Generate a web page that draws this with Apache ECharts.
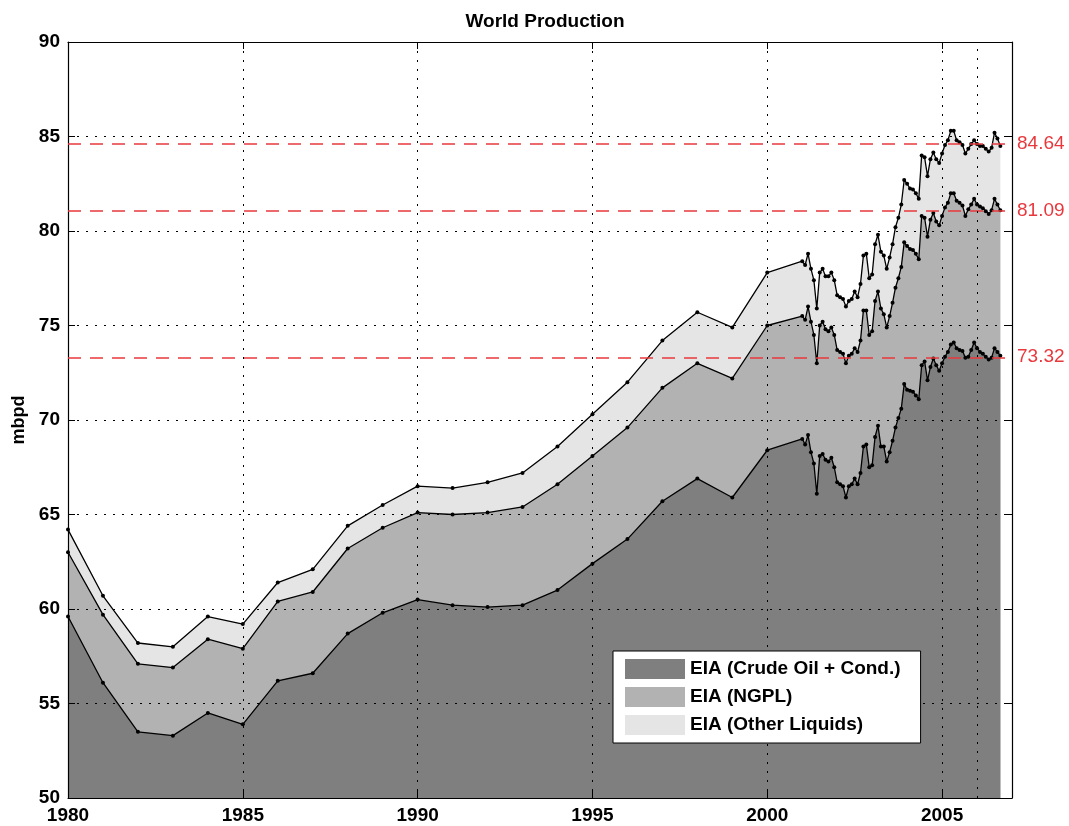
<!DOCTYPE html>
<html>
<head>
<meta charset="utf-8">
<title>World Production</title>
<script src="https://cdn.jsdelivr.net/npm/echarts@6/dist/echarts.min.js"></script>
<style>
  html, body { margin: 0; padding: 0; background: #ffffff; }
  #chart { width: 1069px; height: 826px; }
</style>
</head>
<body>
<div id="chart"></div>
<script>
// ---- Annual averages, 1980-2000 (million barrels per day) ----
const annualYears = [1980, 1981, 1982, 1983, 1984, 1985, 1986, 1987, 1988, 1989, 1990,
                     1991, 1992, 1993, 1994, 1995, 1996, 1997, 1998, 1999, 2000];
const crudeAnnual = [59.6, 56.1, 53.5, 53.3, 54.5, 53.9, 56.2, 56.6, 58.7, 59.8, 60.5,
                     60.2, 60.1, 60.2, 61.0, 62.4, 63.7, 65.7, 66.9, 65.9, 68.4];
const ngplAnnual  = [3.4, 3.6, 3.6, 3.6, 3.9, 4.0, 4.2, 4.3, 4.5, 4.5, 4.6,
                     4.8, 5.0, 5.2, 5.6, 5.7, 5.9, 6.0, 6.1, 6.3, 6.6];
const otherAnnual = [1.2, 1.0, 1.1, 1.1, 1.2, 1.3, 1.0, 1.2, 1.2, 1.2, 1.4,
                     1.4, 1.6, 1.8, 2.0, 2.2, 2.4, 2.5, 2.7, 2.7, 2.8];

// ---- Monthly values, Jan 2001 - Sep 2006 ----
const monthlyStartYear = 2001;
const crudeMonthly = [
  69.0, 68.7, 69.2, 68.3, 67.7, 66.1, 68.1, 68.2, 67.9, 67.8, 68.0, 67.5,   // 2001
  66.7, 66.6, 66.5, 65.9, 66.5, 66.6, 66.9, 66.6, 67.2, 68.6, 68.7, 67.5,   // 2002
  67.6, 69.1, 69.7, 68.6, 68.6, 67.8, 68.3, 68.9, 69.6, 70.1, 70.6, 71.9,   // 2003
  71.6, 71.55, 71.5, 71.3, 71.1, 72.9, 73.1, 72.1, 72.8, 73.25, 72.9, 72.6, // 2004
  73.0, 73.35, 73.6, 74.0, 74.1, 73.8, 73.7, 73.65, 73.3, 73.35, 73.7, 74.1, // 2005
  73.8, 73.6, 73.5, 73.35, 73.2, 73.3, 73.8, 73.6, 73.4                      // 2006
];
const ngplMonthly = [
  6.5, 6.6, 6.8, 6.9, 6.8, 6.9, 6.9, 7.0, 6.9, 6.9, 6.9, 7.0,
  7.0, 7.0, 7.0, 7.1, 6.9, 6.9, 6.9, 7.0, 7.0, 7.2, 7.1, 7.0,
  7.1, 7.2, 7.1, 7.3, 7.0, 7.1, 7.2, 7.3, 7.4, 7.4, 7.5, 7.5,
  7.6, 7.5, 7.5, 7.5, 7.4, 7.9, 7.6, 7.6, 7.8, 7.7, 7.6, 7.7,
  7.8, 7.9, 7.9, 8.0, 7.9, 7.8, 7.8, 7.7, 7.5, 7.8, 7.7, 7.6,
  7.6, 7.7, 7.7, 7.7, 7.7, 7.8, 7.9, 7.8, 7.7
];
const otherMonthly = [
  2.9, 2.9, 2.8, 2.8, 2.9, 2.9, 2.8, 2.8, 2.8, 2.9, 2.9, 2.9,
  2.9, 2.9, 2.9, 3.0, 2.9, 2.9, 3.0, 2.9, 3.0, 2.9, 3.0, 3.0,
  3.0, 3.0, 3.0, 3.0, 3.1, 3.1, 3.1, 3.1, 3.2, 3.2, 3.3, 3.3,
  3.3, 3.2, 3.2, 3.2, 3.2, 3.2, 3.2, 3.2, 3.2, 3.2, 3.3, 3.3,
  3.3, 3.3, 3.3, 3.3, 3.3, 3.2, 3.2, 3.2, 3.3, 3.2, 3.2, 3.1,
  3.2, 3.2, 3.3, 3.3, 3.3, 3.3, 3.5, 3.5, 3.4
];

// Reference levels drawn as red dashed lines
const referenceLevels = [84.64, 81.09, 73.32];

const seriesNames = ['EIA (Crude Oil + Cond.)', 'EIA (NGPL)', 'EIA (Other Liquids)'];
const fillColors = ['#7f7f7f', '#b2b2b2', '#e5e5e5'];

// Join the annual and monthly parts into one time axis
const timeAxis = annualYears.concat(crudeMonthly.map((_, i) => monthlyStartYear + i / 12));
const layers = [
  crudeAnnual.concat(crudeMonthly),
  ngplAnnual.concat(ngplMonthly),
  otherAnnual.concat(otherMonthly)
];

// Cumulative tops of each band: crude, crude + NGPL, crude + NGPL + other
const cumulative = [];
layers.forEach((layer, k) => {
  cumulative.push(layer.map((v, i) => (k === 0 ? 0 : cumulative[k - 1][i]) + v));
});

const FONT = '"Liberation Sans", Arial, Helvetica, sans-serif';
const RED = '#e8383d';
const gridDots = { color: '#000', width: 1, type: [2, 7] };

// Each band is filled down to the axis; the lower bands are drawn over the upper ones
const series = cumulative.map((vals, k) => {
  const s = {
    name: seriesNames[k],
    type: 'line',
    data: vals.map((v, i) => [timeAxis[i], Math.round(v * 100) / 100]),
    z: 4 - k,
    symbol: 'circle',
    symbolSize: 4,
    showSymbol: true,
    itemStyle: { color: '#000' },
    lineStyle: { color: '#000', width: 1.3 },
    areaStyle: { color: fillColors[k], opacity: 1 },
    emphasis: { disabled: true },
    animation: false
  };
  if (k === 0) {
    s.markLine = {
      silent: true,
      symbol: 'none',
      animation: false,
      z: 6,
      data: referenceLevels.map(v => ({
        yAxis: v,
        lineStyle: { color: RED, width: 1.5, type: [13, 9] },
        label: {
          show: true, position: 'end', distance: 5, formatter: String(v),
          color: RED, fontSize: 19, fontFamily: FONT
        }
      })).concat([{
        xAxis: 2006,
        lineStyle: gridDots,
        label: { show: false }
      }])
    };
  }
  return s;
});

const chart = echarts.init(document.getElementById('chart'), null, { renderer: 'canvas' });
chart.setOption({
  animation: false,
  backgroundColor: '#ffffff',
  title: {
    text: 'World Production',
    left: 540, top: 7, textAlign: 'center',
    textStyle: { fontFamily: FONT, fontWeight: 'bold', fontSize: 19, color: '#000' }
  },
  grid: { left: 68, right: 57, top: 42, bottom: 28, containLabel: false },
  legend: {
    orient: 'vertical',
    left: 613, top: 651,
    data: seriesNames.map((n, k) => ({
      name: n, icon: 'rect',
      itemStyle: { color: fillColors[k], borderWidth: 0 }
    })),
    itemWidth: 60, itemHeight: 20, itemGap: 8,
    padding: [8, 20, 8, 12],
    backgroundColor: '#ffffff',
    borderColor: '#000', borderWidth: 1,
    selectedMode: false,
    z: 8,
    textStyle: { fontFamily: FONT, fontWeight: 'bold', fontSize: 19, color: '#000' }
  },
  xAxis: [{
    type: 'value', min: 1980, max: 2007, interval: 5, z: 5,
    position: 'bottom',
    axisLine: { show: true, onZero: false, lineStyle: { color: '#000', width: 1.2 } },
    axisTick: { show: true, inside: true, length: 7, lineStyle: { color: '#000' } },
    axisLabel: {
      margin: 8, color: '#000', fontFamily: FONT, fontWeight: 'bold', fontSize: 19,
      formatter: v => (v % 5 === 0 ? String(v) : '')
    },
    splitLine: { show: true, lineStyle: gridDots }
  }, {
    type: 'value', min: 1980, max: 2007, interval: 5, z: 5,
    position: 'top',
    axisLine: { show: true, onZero: false, lineStyle: { color: '#000', width: 1.2 } },
    axisTick: { show: true, inside: true, length: 7, lineStyle: { color: '#000' } },
    axisLabel: { show: false },
    splitLine: { show: false }
  }],
  yAxis: [{
    type: 'value', min: 50, max: 90, interval: 5, z: 5,
    position: 'left',
    name: 'mbpd', nameLocation: 'middle', nameGap: 34, nameRotate: 90,
    nameTextStyle: { fontFamily: FONT, fontWeight: 'bold', fontSize: 18, color: '#000' },
    axisLine: { show: true, onZero: false, lineStyle: { color: '#000', width: 1.2 } },
    axisTick: { show: true, inside: true, length: 7, lineStyle: { color: '#000' } },
    axisLabel: { margin: 8, color: '#000', fontFamily: FONT, fontWeight: 'bold', fontSize: 19 },
    splitLine: { show: true, lineStyle: gridDots }
  }, {
    type: 'value', min: 50, max: 90, interval: 5, z: 5,
    position: 'right',
    axisLine: { show: true, onZero: false, lineStyle: { color: '#000', width: 1.2 } },
    axisTick: { show: true, inside: true, length: 7, lineStyle: { color: '#000' } },
    axisLabel: { show: false },
    splitLine: { show: false }
  }],
  series: series
});
</script>
</body>
</html>
